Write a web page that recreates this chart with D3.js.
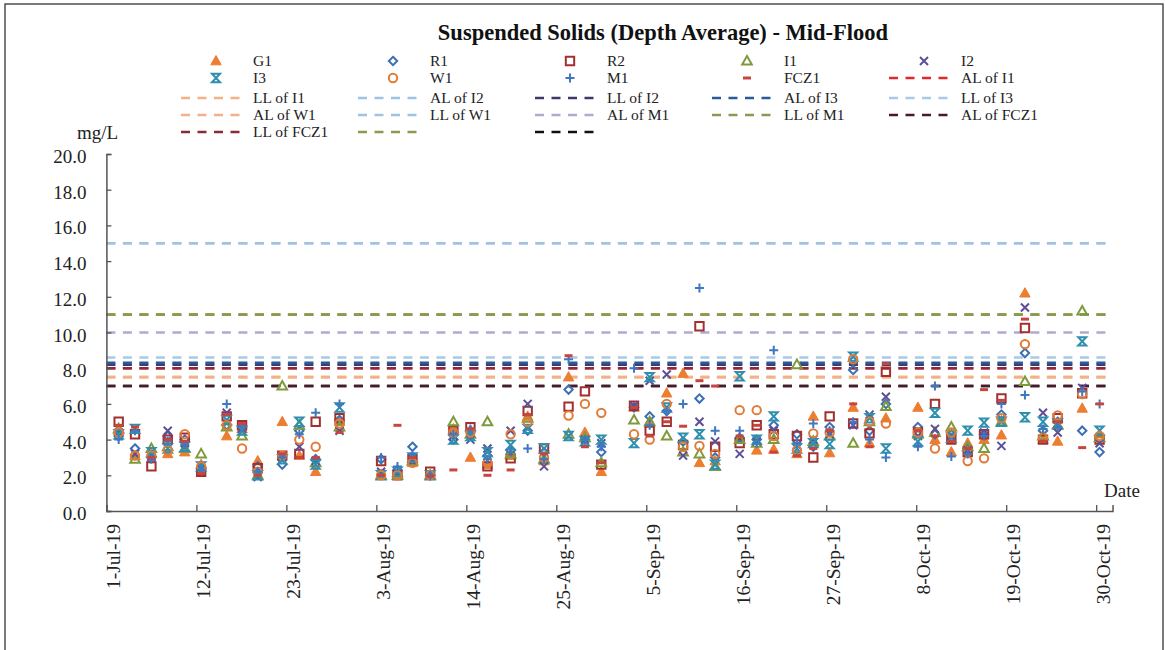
<!DOCTYPE html>
<html>
<head>
<meta charset="utf-8">
<script src="https://cdn.jsdelivr.net/npm/d3@7"></script>
<style>
  html, body { margin: 0; padding: 0; background: #fff; }
  svg { display: block; font-family: "Liberation Serif", "Times New Roman", serif; }
</style>
</head>
<body>
<svg id="chart" width="1165" height="650"></svg>
<script>
// ---------- DATA ----------
const sampleDates = [
  "2019-07-02T12:00","2019-07-04T12:00","2019-07-06T12:00","2019-07-08T12:00","2019-07-10T14:00",
  "2019-07-12T14:00","2019-07-15T17:00","2019-07-17T14:00","2019-07-19T12:00","2019-07-22T12:00",
  "2019-07-24T14:00","2019-07-26T14:00","2019-07-29T12:00","2019-08-03T14:00","2019-08-05T14:00",
  "2019-08-07T10:00","2019-08-09T14:00","2019-08-12T10:00","2019-08-14T12:00","2019-08-16T14:00",
  "2019-08-19T10:00","2019-08-21T12:00","2019-08-23T12:00","2019-08-26T12:00","2019-08-28T12:00",
  "2019-08-30T12:00","2019-09-03T12:00","2019-09-05T10:00","2019-09-07T12:00","2019-09-09T12:00",
  "2019-09-11T12:00","2019-09-13T10:00","2019-09-16T10:00","2019-09-18T12:00","2019-09-20T14:00",
  "2019-09-23T10:00","2019-09-25T10:00","2019-09-27T10:00","2019-09-30T07:00","2019-10-02T07:00",
  "2019-10-04T07:00","2019-10-08T05:00","2019-10-10T07:00","2019-10-12T07:00","2019-10-14T07:00",
  "2019-10-16T07:00","2019-10-18T10:00","2019-10-21T07:00","2019-10-23T12:00","2019-10-25T07:00",
  "2019-10-28T07:00","2019-10-30T10:00"
];

const seriesNames = ["G1","R1","R2","I1","I2","I3","W1","M1","FCZ1"];

const g1   = [4.5,3.1,3.2,3.2,3.3,2.6,4.2,4.6,2.8,5.0,3.1,2.2,5.0,2.0,2.0,2.7,2.0,4.6,3.0,2.6,3.1,5.3,2.8,7.5,4.4,2.2,5.8,4.9,6.6,7.7,2.7,2.8,4.0,3.4,3.45,3.2,5.3,3.25,5.8,3.8,5.2,5.8,4.0,3.3,3.8,4.0,4.25,12.2,4.0,3.9,5.75,4.3];
const r1   = [4.2,3.5,3.0,4.2,4.0,2.4,4.8,4.7,2.5,2.6,4.5,2.9,5.1,2.9,2.3,3.6,2.0,4.0,4.5,3.1,3.4,4.5,3.3,6.8,4.0,3.3,5.8,5.3,5.6,3.9,6.3,3.0,4.1,4.0,4.8,4.3,3.6,4.7,7.9,4.5,6.0,4.7,4.3,4.3,3.5,4.3,5.4,8.85,4.5,5.0,4.5,3.3];
const r2   = [5.0,4.3,2.5,4.0,4.1,2.2,5.3,4.8,2.4,3.1,3.2,5.0,5.2,2.8,2.0,2.9,2.2,4.5,4.7,2.5,2.95,5.6,3.5,5.85,6.7,2.6,5.9,4.5,5.0,3.7,10.35,3.6,3.8,4.8,4.3,4.2,3.0,5.3,4.9,4.35,7.8,4.4,6.0,4.0,3.3,4.3,6.3,10.25,4.0,5.2,6.6,4.0];
const i1   = [4.6,2.9,3.5,3.6,3.5,3.2,4.7,4.2,2.0,7.0,4.8,2.7,4.7,2.0,2.0,2.8,2.0,5.0,4.3,5.0,3.2,5.2,2.9,4.3,4.1,2.7,5.1,5.0,4.2,3.3,3.2,2.5,4.0,3.8,4.0,8.2,3.9,4.2,3.8,5.0,5.85,4.3,4.4,4.7,3.6,3.5,5.0,7.25,4.2,4.8,11.2,4.1];
const i2   = [4.4,3.2,3.0,4.5,3.8,2.3,5.5,4.6,1.9,3.0,3.6,2.8,4.5,2.2,2.1,2.8,2.0,4.2,4.0,3.5,4.5,6.0,2.5,4.2,4.0,3.8,5.9,7.3,7.65,3.1,5.0,3.9,3.2,3.9,4.5,3.7,4.0,4.3,4.8,5.4,6.4,4.2,4.6,4.2,3.4,4.4,3.65,11.4,5.5,4.4,6.9,3.8];
const i3   = [4.3,4.6,3.3,3.5,3.6,2.5,5.1,4.5,2.0,2.9,5.0,2.6,5.8,2.0,2.2,3.0,2.0,4.0,4.2,3.3,3.7,4.6,3.5,4.2,3.9,4.0,3.8,7.5,5.8,4.1,4.3,2.6,7.55,4.0,5.3,3.5,3.8,3.75,8.65,5.2,3.5,3.9,5.5,4.1,4.5,4.95,5.0,5.25,5.0,4.9,9.5,4.5];
const w1   = [4.4,3.1,3.1,3.4,4.3,2.5,4.8,3.5,2.2,3.1,4.0,3.6,4.9,2.0,2.0,2.7,2.0,4.4,4.4,2.7,4.3,5.0,3.0,5.35,6.0,5.5,4.3,4.0,6.0,3.6,3.65,3.2,5.65,5.65,4.2,3.4,4.35,4.4,8.5,5.0,4.9,4.4,3.5,4.4,2.8,2.95,5.2,9.35,4.1,5.35,6.55,4.2];
const m1   = [4.0,4.5,2.9,3.9,3.7,2.3,6.0,4.7,2.2,3.0,4.3,5.5,6.0,3.0,2.5,3.2,2.0,4.3,4.6,2.9,3.3,3.5,2.9,8.5,4.0,3.6,8.0,4.8,5.6,6.0,12.5,4.5,4.5,3.8,9.0,3.8,4.9,4.5,5.0,4.0,3.0,3.6,7.0,3.05,3.2,4.2,6.0,6.5,4.6,4.7,6.7,6.0];
const fcz1 = [4.8,4.7,3.0,4.0,3.9,2.1,5.4,4.9,2.0,3.2,3.0,3.0,4.4,2.0,4.8,3.0,1.95,2.3,4.6,2.0,2.3,5.4,3.2,8.7,3.6,2.7,5.8,4.2,5.0,4.75,7.3,7.0,4.2,4.8,3.3,3.1,3.5,4.5,6.0,3.6,8.25,4.5,4.2,3.9,3.5,6.8,6.2,10.75,3.9,5.0,3.55,6.0];

const limitNames  = ["AL of I1","LL of I1","AL of I2","LL of I2","AL of I3","LL of I3","AL of W1","LL of W1","AL of M1","LL of M1","AL of FCZ1","LL of FCZ1","",""];
const limitValues = [8.0, 7.5, 15.0, 8.2, 8.3, 8.6, 7.5, 15.0, 10.0, 11.0, 7.0, 8.0, 11.0, 7.0];

const yTicks = [0,2,4,6,8,10,12,14,16,18,20];
const xTickDates = ["2019-07-01","2019-07-12","2019-07-23","2019-08-03","2019-08-14","2019-08-25",
                    "2019-09-05","2019-09-16","2019-09-27","2019-10-08","2019-10-19","2019-10-30"];
const titleText = "Suspended Solids (Depth Average) - Mid-Flood";

// ---------- STYLES ----------
const seriesColors = {G1:"#ed7d31", R1:"#3c6fb4", R2:"#a2302f", I1:"#7f9a3c", I2:"#5d4e98",
                      I3:"#2f8fae", W1:"#e07b39", M1:"#3f78c0", FCZ1:"#c8453f"};
const limitColors = ["#e3262b","#f4b183","#9dc3e6","#3d3a6b","#2a5b98","#a9c8ea","#f4b183","#9dc3e6",
                     "#b1a9d2","#8c9a50","#4a1a2c","#8a2a3a","#8c9a50","#111111"];

const seriesValues = [g1, r1, r2, i1, i2, i3, w1, m1, fcz1];

// ---------- SCALES ----------
const parseDT = d3.timeParse("%Y-%m-%dT%H:%M");
const parseD = d3.timeParse("%Y-%m-%d");
const dates = sampleDates.map(parseDT);

const svg = d3.select("#chart");
const x0 = 106.4, pxPerDay = 8.18;
const xStart = parseD("2019-07-01"), xEnd = parseD("2019-11-01");
const x = d3.scaleTime().domain([xStart, xEnd]).range([x0, x0 + pxPerDay * 123]);
const y = d3.scaleLinear().domain([0, 20]).range([511, 154]);

// frame
svg.append("rect").attr("x", 5).attr("y", 4).attr("width", 1158).attr("height", 700)
  .attr("fill", "none").attr("stroke", "#333").attr("stroke-width", 1.3);

// title
svg.append("text").attr("x", 663).attr("y", 40).attr("text-anchor", "middle")
  .attr("font-weight", "bold").attr("font-size", 22.5).attr("fill", "#111").text(titleText);

// ---------- LIMIT LINES ----------
const limits = limitNames.map((n, i) => ({name: n, value: limitValues[i], color: limitColors[i], idx: i}));
const drawOrder = limits.slice().sort((a, b) => (a.name === "" ? 0 : 1) - (b.name === "" ? 0 : 1) || a.idx - b.idx);
svg.append("g").selectAll("line").data(drawOrder).join("line")
  .attr("x1", x(xStart)).attr("x2", x(xEnd))
  .attr("y1", d => y(d.value)).attr("y2", d => y(d.value))
  .attr("stroke", d => d.color).attr("stroke-width", 2.6)
  .attr("stroke-dasharray", "9,7.5");

// ---------- AXES ----------
const axisColor = "#555";
const xAxis = d3.axisBottom(x).tickValues(xTickDates.map(parseD)).tickSize(-6).tickFormat(d3.timeFormat("%-d-%b-%y"));
const gx = svg.append("g").attr("transform", `translate(0,${y(0)})`).call(xAxis);
gx.select(".domain").attr("stroke", axisColor).attr("stroke-width", 1.5);
gx.selectAll(".tick line").attr("stroke", axisColor).attr("stroke-width", 1.3);
gx.selectAll(".tick text")
  .attr("font-family", "Liberation Serif, serif").attr("font-size", 19.5).attr("fill", "#222")
  .attr("transform", "rotate(-90)").attr("text-anchor", "end")
  .attr("x", -13).attr("y", 6).attr("dy", "0.35em");

const yAxis = d3.axisLeft(y).tickValues(yTicks).tickSize(-5).tickPadding(20).tickFormat(d3.format(".1f"));
const gy = svg.append("g").attr("transform", `translate(${x0},0)`).call(yAxis);
gy.select(".domain").attr("stroke", axisColor).attr("stroke-width", 1.5);
gy.selectAll(".tick line").attr("stroke", axisColor).attr("stroke-width", 1.3);
gy.selectAll(".tick text").attr("font-family", "Liberation Serif, serif").attr("font-size", 19)
  .attr("fill", "#222").attr("dy", "0.45em");

svg.append("text").attr("x", 77).attr("y", 139).attr("font-size", 19).attr("fill", "#222").text("mg/L");
svg.append("text").attr("x", 1104).attr("y", 497).attr("font-size", 19).attr("fill", "#222").text("Date");

// ---------- MARKERS ----------
const markerDefs = {
  G1:  {path: "M0,-5.5L5.2,3.8L-5.2,3.8Z", fill: true},
  R1:  {path: "M0,-4.2L4.2,0L0,4.2L-4.2,0Z", fill: false},
  R2:  {path: "M-4.2,-4.2H4.2V4.2H-4.2Z", fill: false},
  I1:  {path: "M0,-5L4.8,3.5L-4.8,3.5Z", fill: false},
  I2:  {path: "M-4,-4L4,4M4,-4L-4,4", fill: false},
  I3:  {path: "M-4,-4.2H4L-4,4.2H4Z", fill: false},
  W1:  {path: "M4.2,0A4.2,4.2 0 1,1 -4.2,0A4.2,4.2 0 1,1 4.2,0Z", fill: false},
  M1:  {path: "M-4.5,0H4.5M0,-4.5V4.5", fill: false},
  FCZ1:{path: "M-4,-1.5H4V1.5H-4Z", fill: true}
};
function drawMarker(sel, name) {
  const m = markerDefs[name], c = seriesColors[name];
  sel.attr("d", m.path)
    .attr("fill", m.fill ? c : "none")
    .attr("stroke", m.fill ? (name === "FCZ1" ? "none" : c) : c)
    .attr("stroke-width", m.fill ? 1 : 2)
    .attr("stroke-linejoin", "miter");
}

const gPts = svg.append("g");
seriesNames.forEach((name, si) => {
  const pts = dates.map((d, i) => ({d, v: seriesValues[si][i]}));
  gPts.append("g").selectAll("path").data(pts).join("path")
    .attr("transform", p => `translate(${x(p.d)},${y(p.v)})`)
    .call(drawMarker, name);
});

// ---------- LEGEND ----------
const legendItems = seriesNames.map(n => ({type: "marker", name: n}))
  .concat(limits.map(l => ({type: "line", name: l.name, color: l.color})));
const colX = [253, 430, 607, 784, 961];
const rowY = [61, 78, 98, 115, 132];
const lg = svg.append("g");
legendItems.forEach((it, i) => {
  const cx = colX[i % 5], cy = rowY[Math.floor(i / 5)];
  if (it.type === "marker") {
    lg.append("path").attr("transform", `translate(${cx - 37},${cy})`).call(drawMarker, it.name);
  } else {
    lg.append("line").attr("x1", cx - 72).attr("x2", cx - 12).attr("y1", cy).attr("y2", cy)
      .attr("stroke", it.color).attr("stroke-width", 2.6).attr("stroke-dasharray", "9,7.5");
  }
  if (it.name) {
    lg.append("text").attr("x", cx).attr("y", cy).attr("dy", "0.35em")
      .attr("font-size", 15.5).attr("fill", "#222").text(it.name);
  }
});
</script>
</body>
</html>
